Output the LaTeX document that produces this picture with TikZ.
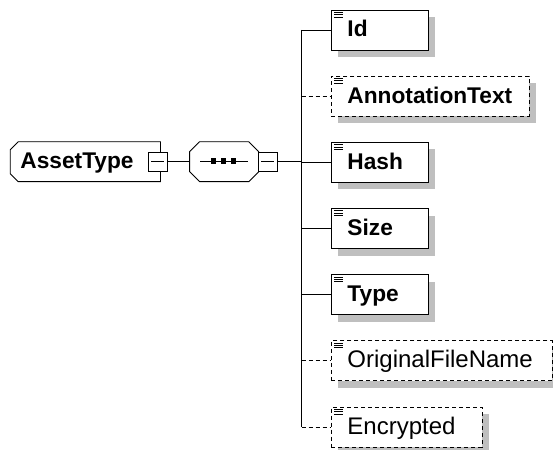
\documentclass[tikz,border=0pt]{standalone}
\usepackage{fontspec}
\setmainfont{Liberation Sans}
\usetikzlibrary{shadows}

\tikzset{
	shade/.style={general shadow={fill=black!25,shadow xshift=7pt,shadow yshift=-7pt}},
	elem/.style={draw,fill=white,shade,inner sep=0pt,minimum height=40pt,anchor=west,
		path picture={\foreach \k in {2.3,4.6,6.9}{\draw[solid,line width=0.7pt]
			([shift={(3pt,-\k pt)}]path picture bounding box.north west) -- ++(9pt,0);}}},
	req/.style={},
	opt/.style={dash pattern=on 4pt off 3pt},
	lblb/.style={anchor=base west,inner sep=0pt,font=\fontsize{22.7}{25}\selectfont\bfseries},
	lbl/.style={anchor=base west,inner sep=0pt,font=\fontsize{24}{26}\selectfont},
	hull/.style={inner sep=0pt,minimum height=39pt},
	minus/.style={draw,fill=white,inner sep=0pt,minimum width=19pt,minimum height=19.5pt,
		path picture={\draw ([xshift=3pt]path picture bounding box.west) -- ([xshift=-3pt]path picture bounding box.east);}},
}
% outline of a box with chamfered left corners, and of an octagon
\newcommand\lboxpath[2]{(#1.north east) -- (#1.south east) -- ([xshift=#2]#1.south west) -- ([yshift=#2]#1.south west)
	-- ([yshift=-#2]#1.north west) -- ([xshift=#2]#1.north west) -- cycle}
\newcommand\octpath[2]{([xshift=#2]#1.north west) -- ([xshift=-#2]#1.north east) -- ([yshift=-#2]#1.north east)
	-- ([yshift=#2]#1.south east) -- ([xshift=-#2]#1.south east) -- ([xshift=#2]#1.south west)
	-- ([yshift=#2]#1.south west) -- ([yshift=-#2]#1.north west) -- cycle}

\begin{document}
\begin{tikzpicture}[x=1pt,y=-1pt,line width=0.9pt]
	\useasboundingbox (0,0) rectangle (553,449);
	% root element
	\node[hull,minimum width=149.3pt] (asset) at (85.35,161.7) {};
	\fill[black!25,shift={(7,7)}] \lboxpath{asset}{8pt};
	\filldraw[fill=white] \lboxpath{asset}{8pt};
	\node[lblb] (assett) at (20,168.7) {AssetType};
	\node[minus] (assetm) at (157.5,161.7) {};
	% sequence
	\node[hull,minimum width=68.3pt] (seq) at (224.15,161.7) {};
	\fill[black!25,shift={(7,7)}] \octpath{seq}{10pt};
	\filldraw[fill=white] \octpath{seq}{10pt};
	\draw (200,161.2) -- (248.3,161.2);
	\foreach \x in {213.3,223.3,233.3}{\fill (\x-2.6,158.2) rectangle (\x+2.6,164.2);}
	\node[minus] (seqm) at (267.8,161.7) {};
	\coordinate (bus) at (301.7,161.7);
	\draw (assetm.east) -- (seq.west) (seqm.east) -- (bus);
	% child elements
	\foreach \i/\txt/\w/\o/\f in {0/Id/97/req/lblb, 1/AnnotationText/198/opt/lblb, 2/Hash/97/req/lblb,
		3/Size/97/req/lblb, 4/Type/97/req/lblb, 5/OriginalFileName/221/opt/lbl, 6/Encrypted/150.7/opt/lbl}{
		\node[elem,\o,minimum width=\w pt] (e\i) at (331,30+66.17*\i) {};
		\node[\f] (t\i) at ([shift={(16pt,-7pt)}]e\i.west) {\txt};
		\draw[\o] (e\i.west -| bus) -- (e\i.west);
	}
	\draw (e0.west -| bus) -- (e6.west -| bus);
\end{tikzpicture}
\end{document}
